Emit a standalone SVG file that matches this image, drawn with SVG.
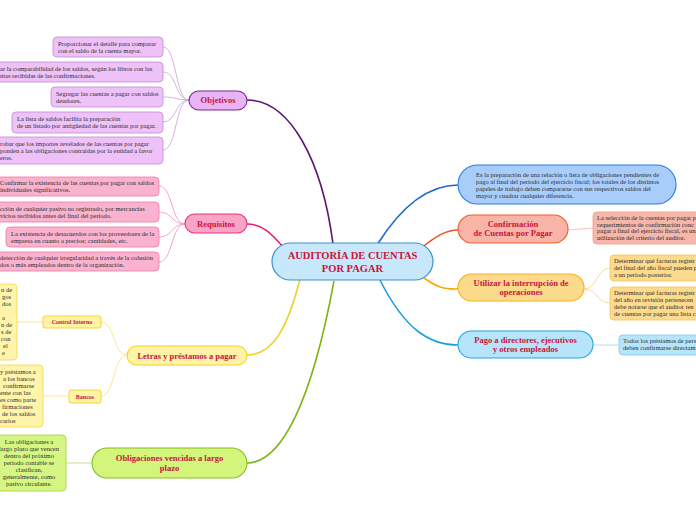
<svg xmlns="http://www.w3.org/2000/svg" width="696" height="520" viewBox="0 0 696 520">
<style>
.t{font-family:"Liberation Serif","DejaVu Serif",serif;font-size:6.5px;fill:#2b2b2b}
.h{font-family:"Liberation Serif","DejaVu Serif",serif;font-weight:bold;fill:#c8153c;text-anchor:middle}
.c{fill:none;stroke-width:1.6}
.s{fill:none;stroke-width:0.8}
.pur{fill:#eec2f8;stroke:#c08ad2;stroke-width:0.8}
.pnk{fill:#f9b3cf;stroke:#ef78a6;stroke-width:0.8}
.yel{fill:#fff4aa;stroke:#f2d84e;stroke-width:0.8}
.grn{fill:#d6f683;stroke:#a3cf3c;stroke-width:0.8}
.org{fill:#fcdb8e;stroke:#f6c455;stroke-width:0.8}
</style>
<rect width="696" height="520" fill="#ffffff"/>
<g id="connectors">
<path class="c" stroke="#5a1a6e" d="M333,244 C322,160 290,100 247,100"/>
<path class="c" stroke="#f0186e" d="M285,249 C270,232 262,224 247,224"/>
<path class="c" stroke="#f0d020" d="M300,279 C287,330 272,355 247,355"/>
<path class="c" stroke="#7cb518" d="M334,281 C312,400 282,463 247,463"/>
<path class="c" stroke="#1a68d0" d="M377,245 C402,205 428,185 458,185"/>
<path class="c" stroke="#f05020" d="M420,249 C436,236 446,230 458,230"/>
<path class="c" stroke="#f5a800" d="M420,275 C440,290 446,289 458,289"/>
<path class="c" stroke="#1aa0e0" d="M380,280 C405,330 430,345 458,345"/>
<g stroke="#c7a0d6">
<path class="s" d="M189,100 C175,100 177,47 163,47"/>
<path class="s" d="M189,100 C175,100 177,72 163,72"/>
<path class="s" d="M189,100 C175,100 177,97 163,97"/>
<path class="s" d="M189,100 C175,100 177,122 163,122"/>
<path class="s" d="M189,100 C175,100 177,150 163,150"/>
</g>
<g stroke="#f58cb5">
<path class="s" d="M185,224 C171,224 173,186 159,186"/>
<path class="s" d="M185,224 C171,224 173,212 159,212"/>
<path class="s" d="M185,224 C171,224 173,237 159,237"/>
<path class="s" d="M185,224 C171,224 173,262 159,262"/>
</g>
<g stroke="#f8e27a">
<path class="s" d="M127,355 C113,355 115,322 101,322"/>
<path class="s" d="M127,355 C113,355 115,396 101,396"/>
<path class="s" d="M43,322 L17,322"/>
<path class="s" d="M69,396 L43,396"/>
</g>
<path class="s" stroke="#b6dc6a" d="M92,463 L66,463"/>
<path class="s" stroke="#f6b8a8" d="M568,230 L593,228"/>
<g stroke="#f9d27a">
<path class="s" d="M584,289 C597,289 597,268 610,268"/>
<path class="s" d="M584,289 C597,289 597,303 610,303"/>
</g>
<path class="s" stroke="#9fd8f3" d="M593,345 L619,345"/>
</g>
<g id="center">
<rect x="272" y="243" width="161" height="37" rx="18.5" fill="#c6e8fa" stroke="#3b8fd0" stroke-width="1.2"/>
<text class="h" x="352.5" y="259" font-size="10.5">AUDITORÍA DE CUENTAS</text>
<text class="h" x="352.5" y="272" font-size="10.5">POR PAGAR</text>
</g>
<g id="objetivos">
<rect x="189" y="91" width="58" height="19" rx="9.5" fill="#e9b4f6" stroke="#7a2b8c" stroke-width="1.1"/>
<text class="h" x="218" y="103" font-size="8.5">Objetivos</text>
</g>
<g id="obj1"><rect class="pur" x="53" y="37" width="110" height="20" rx="4"/>
<text class="t" x="58" y="45.5">Proporcionar el detalle para comparar</text>
<text class="t" x="58" y="52.5">con el saldo de la cuenta mayor.</text></g>
<g id="obj2"><rect class="pur" x="-5" y="62" width="168" height="20" rx="4"/>
<text class="t" x="0" y="70.5">ar la comparabilidad de los saldos, según los libros con las</text>
<text class="t" x="0" y="77.5">ntas  recibidas de las confirmaciones.</text></g>
<g id="obj3"><rect class="pur" x="51" y="87" width="112" height="20" rx="4"/>
<text class="t" x="56" y="95.5">Segregar las cuentas a pagar con saldos</text>
<text class="t" x="56" y="102.5">deudores.</text></g>
<g id="obj4"><rect class="pur" x="12" y="112" width="151" height="21" rx="4"/>
<text class="t" x="17" y="120.5">La lista de saldos facilita la preparación</text>
<text class="t" x="17" y="127.5">de un listado por antigüedad de las cuentas por pagar.</text></g>
<g id="obj5"><rect class="pur" x="-5" y="137" width="168" height="27" rx="4"/>
<text class="t" x="0" y="145.5">robar que los importes revelados de las cuentas por pagar</text>
<text class="t" x="0" y="152.5">ponden a las obligaciones contraídas por la entidad a favor</text>
<text class="t" x="0" y="159.5">eros.</text></g>
<g id="requisitos">
<rect x="185" y="214" width="62" height="19" rx="9.5" fill="#f9a3c6" stroke="#e8337a" stroke-width="1.1"/>
<text class="h" x="216" y="226.5" font-size="8.5">Requisitos</text>
</g>
<g id="req1"><rect class="pnk" x="-5" y="177" width="164" height="19" rx="4"/>
<text class="t" x="0" y="185">Confirmar la existencia de las cuentas por pagar con saldos</text>
<text class="t" x="0" y="192">individuales significativos.</text></g>
<g id="req2"><rect class="pnk" x="-5" y="202" width="164" height="20" rx="4"/>
<text class="t" x="0" y="210.5">cción de cualquier pasivo no registrado, por mercancías</text>
<text class="t" x="0" y="217.5">vicios recibidos antes del final del período.</text></g>
<g id="req3"><rect class="pnk" x="6" y="227" width="153" height="20" rx="4"/>
<text class="t" x="11" y="235.5">La existencia de desacuerdos con los proveedores de la</text>
<text class="t" x="11" y="242.5">empresa en cuanto a precios; cantidades, etc.</text></g>
<g id="req4"><rect class="pnk" x="-5" y="252" width="164" height="19" rx="4"/>
<text class="t" x="0" y="260">detección de cualquier irregularidad a través de la colusión</text>
<text class="t" x="0" y="267">dos o más empleados dentro de la organización.</text></g>
<g id="letras">
<rect x="127" y="346" width="120" height="19" rx="9.5" fill="#fff3a6" stroke="#f2d22a" stroke-width="1.1"/>
<text class="h" x="187" y="358.5" font-size="8.5">Letras y préstamos a pagar</text>
</g>
<g id="control">
<rect x="43" y="316" width="58" height="12" rx="2" fill="#fff3a6" stroke="#f2d22a" stroke-width="0.9"/>
<text class="h" x="72" y="324.3" font-size="6">Control Interno</text>
</g>
<g id="control-text"><rect class="yel" x="-5" y="284" width="22" height="76" rx="4"/>
<text class="t" x="1" y="292">n de</text>
<text class="t" x="2" y="299">gos</text>
<text class="t" x="2" y="306">dos</text>
<text class="t" x="2" y="320">a</text>
<text class="t" x="1" y="327">n de</text>
<text class="t" x="1" y="334">s de</text>
<text class="t" x="1" y="341">con</text>
<text class="t" x="3" y="348">el</text>
<text class="t" x="2" y="355">e</text></g>
<g id="bancos">
<rect x="69" y="390" width="32" height="13" rx="2" fill="#fff3a6" stroke="#f2d22a" stroke-width="0.9"/>
<text class="h" x="85" y="398.8" font-size="6">Bancos</text>
</g>
<g id="bancos-text"><rect class="yel" x="-5" y="365" width="48" height="62" rx="4"/>
<text class="t" x="0" y="374">y préstamos a</text>
<text class="t" x="3" y="381">a los bancos</text>
<text class="t" x="3" y="388">confirmarse</text>
<text class="t" x="0" y="395">ente con las</text>
<text class="t" x="0" y="402">es como parte</text>
<text class="t" x="2" y="409">firmaciones</text>
<text class="t" x="2" y="416">de los saldos</text>
<text class="t" x="0" y="423">carios</text></g>
<g id="obligaciones">
<rect x="92" y="448" width="155" height="30" rx="15" fill="#d3f57c" stroke="#86bd1e" stroke-width="1.1"/>
<text class="h" x="169.5" y="461" font-size="8.5">Obligaciones vencidas a largo</text>
<text class="h" x="169.5" y="471" font-size="8.5">plazo</text>
</g>
<g id="oblig-text"><rect class="grn" x="-3" y="435" width="69" height="56" rx="4"/>
<g text-anchor="middle">
<text class="t" x="29" y="444">Las obligaciones a</text>
<text class="t" x="29" y="451">largo plazo que vencen</text>
<text class="t" x="29" y="458">dentro del próximo</text>
<text class="t" x="29" y="465">periodo contable se</text>
<text class="t" x="29" y="472">clasifican,</text>
<text class="t" x="29" y="479">generalmente, como</text>
<text class="t" x="29" y="486">pasivo circulante.</text></g></g>
<g id="definicion">
<rect x="458" y="165" width="218" height="39" rx="19.5" fill="#a9cdfb" stroke="#2a7de1" stroke-width="1.1"/>
<text class="t" x="476" y="177">Es la preparación de una relación o lista de obligaciones pendientes de</text>
<text class="t" x="476" y="184">pago al final del periodo del ejercicio fiscal; los totales de los distintos</text>
<text class="t" x="476" y="191">papeles de trabajo deben compararse con sus respectivos saldos del</text>
<text class="t" x="476" y="198">mayor y cuadrar cualquier diferencia.</text>
</g>
<g id="confirmacion">
<rect x="458" y="215" width="110" height="28" rx="14" fill="#f8b4a6" stroke="#f35a28" stroke-width="1.1"/>
<text class="h" x="513" y="226.5" font-size="8.5">Confirmación</text>
<text class="h" x="513" y="236" font-size="8.5">de Cuentas por Pagar</text>
</g>
<g id="conf-text"><rect x="593" y="212" width="110" height="32" rx="4" fill="#f6b7aa" stroke="#f29c88" stroke-width="0.8"/>
<text class="t" x="597" y="220">La selección de la cuentas por pagar p</text>
<text class="t" x="597" y="226.5">requerimientos de confirmación conc</text>
<text class="t" x="597" y="233">pagar a final del ejercicio fiscal, es una</text>
<text class="t" x="597" y="239.5">utilización del criterio del auditor.</text></g>
<g id="utilizar">
<rect x="458" y="274" width="126" height="27" rx="13.5" fill="#fcda8c" stroke="#f6b21c" stroke-width="1.1"/>
<text class="h" x="521" y="285.5" font-size="8.5">Utilizar la interrupción de</text>
<text class="h" x="521" y="295" font-size="8.5">operaciones</text>
</g>
<g id="util1"><rect class="org" x="610" y="255" width="95" height="26" rx="4"/>
<text class="t" x="614" y="263">Determinar qué facturas registr</text>
<text class="t" x="614" y="270">del final del año fiscal pueden p</text>
<text class="t" x="614" y="277">a un periodo posterior.</text></g>
<g id="util2"><rect class="org" x="610" y="287" width="95" height="33" rx="4"/>
<text class="t" x="614" y="295">Determinar qué facturas registr</text>
<text class="t" x="614" y="302">del año en revisión pertenecen</text>
<text class="t" x="614" y="309">debe notarse que el auditor ten</text>
<text class="t" x="614" y="316">de cuentas por pagar una lista c</text></g>
<g id="pago">
<rect x="458" y="331" width="135" height="27" rx="13.5" fill="#b6e4fa" stroke="#22a6e5" stroke-width="1.1"/>
<text class="h" x="525.5" y="342.5" font-size="8.5">Pago a directores, ejecutivos</text>
<text class="h" x="525.5" y="352" font-size="8.5">y otros empleados</text>
</g>
<g id="pago-text"><rect x="619" y="335" width="85" height="20" rx="4" fill="#b6e4fa" stroke="#7cc9ee" stroke-width="0.8"/>
<text class="t" x="623" y="343">Todos los préstamos de pers</text>
<text class="t" x="623" y="350">deben confirmarse directam</text></g>
</svg>
